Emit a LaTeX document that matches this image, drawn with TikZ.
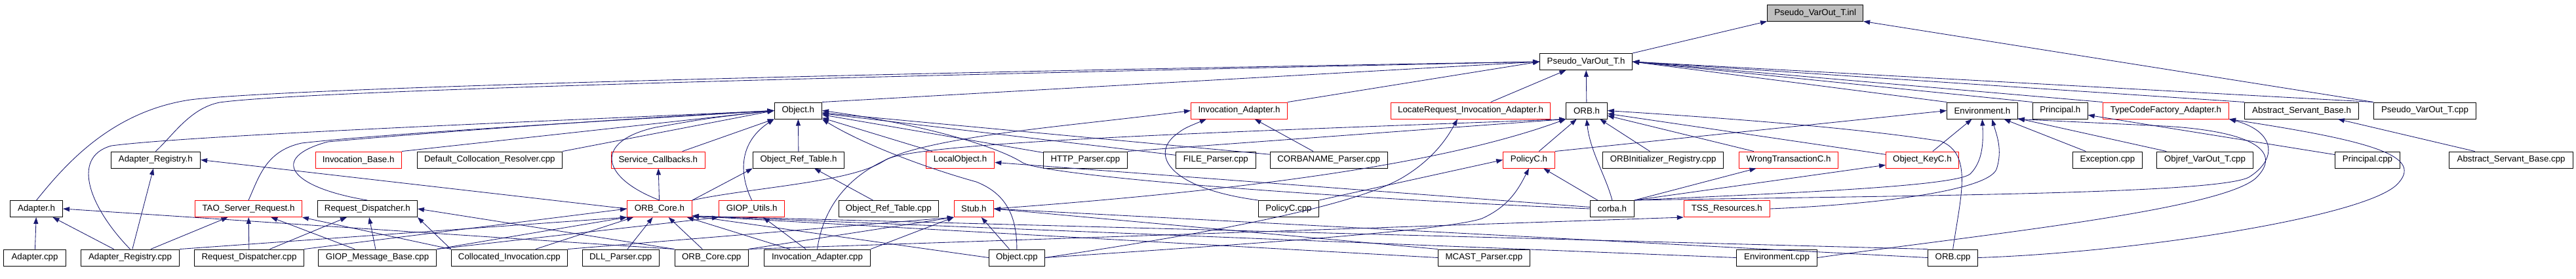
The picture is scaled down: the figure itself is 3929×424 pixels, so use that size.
\documentclass[tikz,border=0pt]{standalone}
\usepackage{fontspec}
\setmainfont{Liberation Sans}
\usetikzlibrary{arrows.meta,calc}
\definecolor{edgec}{HTML}{191970}
\definecolor{redb}{HTML}{FF0000}
\definecolor{grayf}{HTML}{BFBFBF}
\begin{document}
\begin{tikzpicture}[x=1pt,y=-1pt,font=\fontsize{13.3}{15}\selectfont,
 nb/.style={draw=black,line width=1pt,rectangle,inner sep=0pt,minimum height=25pt,fill=white},
 nr/.style={nb,draw=redb},
 ng/.style={nb,fill=grayf},
 ed/.style={draw=edgec,line width=0.85pt,-{Triangle[length=10pt,width=7pt]}}]
\useasboundingbox[fill=white] (0,0) rectangle (3929,424);
% row 0
\node[ng,minimum width=146.1pt] (inl) at (2768.6,19.5) {Pseudo\_VarOut\_T.inl};
% row 1
\node[nb,minimum width=141pt] (pvh) at (2419.1,94) {Pseudo\_VarOut\_T.h};
% row 2
\node[nb,minimum width=72.4pt] (objh) at (1217.3,168.5) {Object.h};
\node[nr,minimum width=147.1pt] (iah) at (1890,168.5) {Invocation\_Adapter.h};
\node[nr,minimum width=243.3pt] (lriah) at (2243,168.5) {LocateRequest\_Invocation\_Adapter.h};
\node[nb,minimum width=62.7pt] (orbh) at (2420,168.5) {ORB.h};
\node[nb,minimum width=107.8pt] (envh) at (3023.4,168.5) {Environment.h};
\node[nb,minimum width=83.8pt] (prh) at (3142.3,168.5) {Principal.h};
\node[nr,minimum width=192.1pt] (tcfah) at (3303.4,168.5) {TypeCodeFactory\_Adapter.h};
\node[nb,minimum width=173.6pt] (asbh) at (3510.5,168.5) {Abstract\_Servant\_Base.h};
\node[nb,minimum width=156.3pt] (pvcpp) at (3698.5,168.5) {Pseudo\_VarOut\_T.cpp};
% row 3
\node[nb,minimum width=136.4pt] (arh) at (237.4,243.5) {Adapter\_Registry.h};
\node[nr,minimum width=131.4pt] (ibh) at (546.7,243.5) {Invocation\_Base.h};
\node[nb,minimum width=221.5pt] (dcr) at (746.8,243.5) {Default\_Collocation\_Resolver.cpp};
\node[nr,minimum width=143.5pt] (sch) at (1003.8,243.5) {Service\_Callbacks.h};
\node[nb,minimum width=139.3pt] (orth) at (1218,243.5) {Object\_Ref\_Table.h};
\node[nr,minimum width=104.4pt] (loh) at (1464.6,243.5) {LocalObject.h};
\node[nb,minimum width=128.4pt] (http) at (1655.4,243.5) {HTTP\_Parser.cpp};
\node[nb,minimum width=122pt] (file) at (1854.3,243.5) {FILE\_Parser.cpp};
\node[nb,minimum width=179pt] (cbn) at (2026.7,243.5) {CORBANAME\_Parser.cpp};
\node[nr,minimum width=78.7pt] (pch) at (2332,243.5) {PolicyC.h};
\node[nb,minimum width=184.1pt] (oir) at (2536.6,243.5) {ORBInitializer\_Registry.cpp};
\node[nr,minimum width=151.1pt] (wtc) at (2728.2,243.5) {WrongTransactionC.h};
\node[nr,minimum width=110.7pt] (okc) at (2931.9,243.5) {Object\_KeyC.h};
\node[nb,minimum width=105.9pt] (exc) at (3214.4,243.5) {Exception.cpp};
\node[nb,minimum width=147.3pt] (ovo) at (3363,243.5) {Objref\_VarOut\_T.cpp};
\node[nb,minimum width=99.2pt] (prcpp) at (3611,243.5) {Principal.cpp};
\node[nb,minimum width=189.2pt] (asbcpp) at (3830.1,243.5) {Abstract\_Servant\_Base.cpp};
% row 4
\node[nb,minimum width=79.9pt] (adh) at (55.6,318) {Adapter.h};
\node[nr,minimum width=162.8pt] (tsr) at (379,318) {TAO\_Server\_Request.h};
\node[nb,minimum width=152pt] (rdh) at (560.4,318) {Request\_Dispatcher.h};
\node[nr,minimum width=98.9pt] (orbch) at (1005.9,318) {ORB\_Core.h};
\node[nr,minimum width=100.2pt] (giu) at (1146.6,318) {GIOP\_Utils.h};
\node[nb,minimum width=152.1pt] (ortcpp) at (1355.3,318) {Object\_Ref\_Table.cpp};
\node[nr,minimum width=60.2pt] (stub) at (1485.4,318) {Stub.h};
\node[nb,minimum width=91.9pt] (pccpp) at (1965.5,318) {PolicyC.cpp};
\node[nb,minimum width=67.3pt] (corba) at (2458.9,318) {corba.h};
\node[nr,minimum width=131pt] (tss) at (2633.8,318) {TSS\_Resources.h};
% row 5
\node[nb,minimum width=95.1pt] (adcpp) at (53,392.5) {Adapter.cpp};
\node[nb,minimum width=150.3pt] (arcpp) at (198.5,392.5) {Adapter\_Registry.cpp};
\node[nb,minimum width=166.7pt] (rdcpp) at (380,392.5) {Request\_Dispatcher.cpp};
\node[nb,minimum width=180.3pt] (giopmb) at (575.5,392.5) {GIOP\_Message\_Base.cpp};
\node[nb,minimum width=177.2pt] (coll) at (776.9,392.5) {Collocated\_Invocation.cpp};
\node[nb,minimum width=117pt] (dll) at (946.7,392.5) {DLL\_Parser.cpp};
\node[nb,minimum width=112pt] (orbccpp) at (1085.2,392.5) {ORB\_Core.cpp};
\node[nb,minimum width=161.8pt] (iacpp) at (1246.5,392.5) {Invocation\_Adapter.cpp};
\node[nb,minimum width=85.1pt] (objcpp) at (1550.9,392.5) {Object.cpp};
\node[nb,minimum width=140.1pt] (mcast) at (2263.4,392.5) {MCAST\_Parser.cpp};
\node[nb,minimum width=123.3pt] (envcpp) at (2710,392.5) {Environment.cpp};
\node[nb,minimum width=76.2pt] (orbcpp) at (2978.6,392.5) {ORB.cpp};

\coordinate (ocse) at ($(orbch.south east)+(0,-2)$);

% ---- edges to Pseudo_VarOut_T.inl / .h
\draw[ed] (pvh.north east) -- (inl.south west);
\draw[ed] (pvcpp.north west) -- (inl.south east);
\draw[ed] (pvcpp.north west) -- (pvh.east);
\draw[ed] (asbh.north west) -- (pvh.east);
\draw[ed] (tcfah.north west) -- (pvh.east);
\draw[ed] (prh.north west) -- (pvh.east);
\draw[ed] (envh.north west) -- (pvh.east);
\draw[ed] (orbh) -- (pvh);
\draw[ed] (lriah) -- (pvh);
\draw[ed] (iah.north east) -- (pvh.west);
\draw[ed] (objh.north east) -- (pvh.west);
\draw[ed] (adh.north) .. controls (100,250) and (170,170) .. (290,152) .. controls (450,132) and (1500,108) .. (pvh.west);
\draw[ed] (arh.north) .. controls (265,205) and (290,165) .. (335,156) .. controls (480,136) and (1500,112) .. (pvh.west);

% ---- edges to Object.h
\draw[ed] (arcpp.north) .. controls (140,320) and (105,240) .. (170,222) .. controls (300,205) and (900,182) .. (objh.west);
\draw[ed] (tsr.north) .. controls (395,270) and (405,230) .. (460,218) .. controls (600,202) and (1000,180) .. (objh.west);
\draw[ed] (rdh.north) .. controls (440,285) and (410,240) .. (500,216) .. controls (700,198) and (1000,178) .. (objh.west);
\draw[ed] (ibh.north east) -- (objh.west);
\draw[ed] (dcr.north east) -- (objh.west);
\draw[ed] (orbch.north) .. controls (915,270) and (905,215) .. (1000,194) .. controls (1080,180) .. (objh.west);
\draw[ed] (sch) -- (objh);
\draw[ed] (giu.north) .. controls (1125,260) and (1130,215) .. (objh.south west);
\draw[ed] (orth) -- (objh);
\draw[ed] (loh) -- (objh);
\draw[ed] (http) -- (objh);
\draw[ed] (file) -- (objh);
\draw[ed] (cbn) -- (objh);
\draw[ed] (objcpp.north) .. controls (1551,330) and (1535,295) .. (1489,277) .. controls (1420,258) and (1320,222) .. (objh.south east);
\draw[ed] (corba.west) .. controls (2000,300) and (1600,268) .. (1560,248) .. controls (1520,222) and (1400,188) .. (objh.east);

% ---- Adapter / Registry / Server request / dispatcher
\draw[ed] (adcpp) -- (adh);
\draw[ed] (arcpp) -- (adh);
\draw[ed] (orbccpp.north west) -- (adh.east);
\draw[ed] (arcpp) -- (arh);
\draw[ed] (orbch.west) -- (arh.east);
\draw[ed] (arcpp) -- (tsr);
\draw[ed] (rdcpp) -- (tsr);
\draw[ed] (giopmb) -- (tsr);
\draw[ed] (coll.north west) -- (tsr.south east);
\draw[ed] (rdcpp) -- (rdh);
\draw[ed] (giopmb) -- (rdh);
\draw[ed] (coll.north west) -- (rdh.south east);
\draw[ed] (orbccpp.north west) -- (rdh.east);

% ---- ORB_Core.h
\draw[ed] (arcpp.north east) -- (orbch.south west);
\draw[ed] (rdcpp.north east) -- (orbch.west);
\draw[ed] (giopmb.north east) -- (orbch.south west);
\draw[ed] (coll) -- (orbch);
\draw[ed] (dll) -- (orbch);
\draw[ed] (orbccpp) -- (orbch);
\draw[ed] (iacpp) -- (orbch);
\draw[ed] (objcpp.west) -- (ocse);
\draw[ed] (orbcpp.north west) -- (ocse);
\draw[ed] (mcast.west) -- (ocse);
\draw[ed] (envcpp.west) -- (ocse);
\draw[ed] (orbch) -- (sch);
\draw[ed] (orbch.north east) -- (orth.south west);
\draw[ed] (ortcpp) -- (orth);
\draw[ed] (orbch.north east) .. controls (1150,285) and (1300,278) .. (1350,244) .. controls (1390,216) and (1900,200) .. (orbh.south west);

% ---- GIOP_Utils / Stub
\draw[ed] (giopmb.north east) -- (giu.south west);
\draw[ed] (iacpp) -- (giu);
\draw[ed] (coll.north east) -- (stub.south west);
\draw[ed] (orbccpp.north east) -- (stub.south west);
\draw[ed] (iacpp.north east) -- (stub.south west);
\draw[ed] (objcpp) -- (stub);
\draw[ed] (orbcpp.west) -- (stub.east);
\draw[ed] (mcast.north west) -- (stub.east);
\draw[ed] (stub.east) .. controls (1900,290) and (2200,250) .. (orbh.south west);
\draw[ed] (orbccpp.north east) -- (tss.south west);

% ---- Invocation adapters
\draw[ed] (iacpp.north) .. controls (1255,320) and (1290,262) .. (1380,232) .. controls (1480,202) and (1650,190) .. (iah.west);
\draw[ed] (pccpp.north west) .. controls (1790,288) and (1755,240) .. (1790,208) .. controls (1805,196) .. ($(iah.south west)+(24,0)$);
\draw[ed] (cbn) -- (iah);
\draw[ed] (objcpp.east) .. controls (1800,362) and (2060,318) .. (2140,270) .. controls (2190,240) and (2210,205) .. ($(lriah.south)+(-20,0)$);

% ---- PolicyC / corba / ORB.h
\draw[ed] (pccpp.north east) -- (pch.west);
\draw[ed] (objcpp.east) .. controls (1900,372) and (2200,352) .. (2260,333) .. controls (2300,315) and (2315,290) .. (pch.south);
\draw[ed] (corba) -- (pch);
\draw[ed] (pch) -- (orbh);
\draw[ed] (pch.north east) -- (envh.west);
\draw[ed] (corba.north) .. controls (2450,270) and (2425,230) .. (orbh.south);
\draw[ed] (corba) -- (loh);
\draw[ed] (corba.north east) -- (wtc);
\draw[ed] (corba.north east) -- (okc);
\draw[ed] (http.north east) -- (orbh.south west);
\draw[ed] (oir) -- (orbh);
\draw[ed] (wtc) -- (orbh);
\draw[ed] (okc) -- (orbh);
\draw[ed] (orbcpp.north) .. controls (2990,300) and (3010,235) .. (2960,215) .. controls (2800,190) and (2550,175) .. (orbh.east);

% ---- Environment / Principal / TypeCodeFactory
\draw[ed] (okc) -- (envh);
\draw[ed] (exc) -- (envh);
\draw[ed] (ovo) -- (envh);
\draw[ed] (corba.north east) .. controls (2700,295) and (2980,285) .. (3005,265) .. controls (3025,245) and (3025,215) .. (envh.south);
\draw[ed] (tss.east) .. controls (2850,312) and (3030,292) .. (3045,258) .. controls (3055,228) and (3045,205) .. ($(envh.south)+(15,0)$);
\draw[ed] (envcpp.east) .. controls (3000,360) and (3380,322) .. (3440,272) .. controls (3482,232) and (3440,200) .. (3300,192) -- (envh.south east);
\draw[ed] (corba.north east) .. controls (2900,298) and (3380,296) .. (3430,270) .. controls (3475,242) and (3470,200) .. (tcfah.south east);
\draw[ed] (orbcpp.east) .. controls (3250,385) and (3600,332) .. (3655,282) .. controls (3700,238) and (3620,215) .. (tcfah.south east);
\draw[ed] (prcpp) -- (prh);
\draw[ed] (asbcpp) -- (asbh);
\end{tikzpicture}
\end{document}
